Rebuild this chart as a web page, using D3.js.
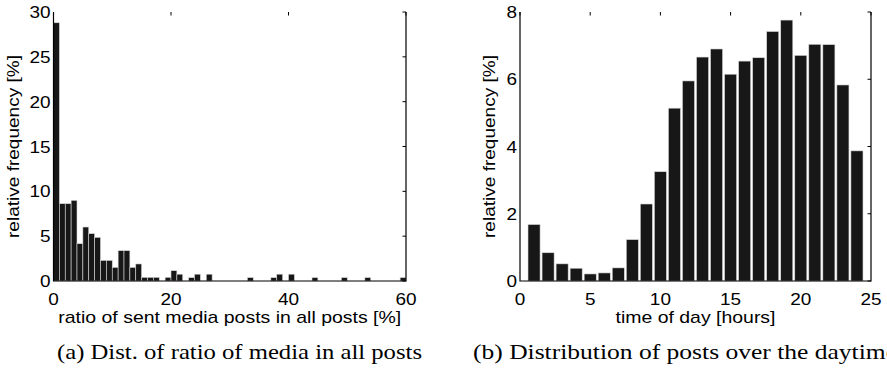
<!DOCTYPE html>
<html><head><meta charset="utf-8">
<script src="https://cdn.jsdelivr.net/npm/d3@7"></script>
<style>
body{margin:0;background:#fff;}
svg{display:block;}
</style></head>
<body>
<svg id="c" width="887" height="372"></svg>
<script>
// Left histogram: ratio of sent media posts in all posts [%], bins of width 1 from 0 to 60
const mediaBinStarts = d3.range(0, 60);
const mediaFreq = [28.8, 8.62, 8.62, 9.0, 4.16, 6.02, 5.28, 4.87, 2.3, 2.3,
  1.52, 3.38, 3.38, 1.52, 1.9, 0.41, 0.41, 0.41, 0, 0.41,
  1.15, 0.76, 0, 0.38, 0.76, 0, 0.76, 0, 0, 0,
  0, 0, 0, 0.38, 0, 0, 0, 0.38, 0.76, 0,
  0.76, 0, 0, 0, 0.38, 0, 0, 0, 0, 0.38,
  0, 0, 0, 0.38, 0, 0, 0, 0, 0, 0.38];
const mediaXTicks = [0, 20, 40, 60];
const mediaYTicks = [0, 5, 10, 15, 20, 25, 30];

// Right: posts over time of day
const hours = d3.range(1, 25);
const hourFreq = [1.68, 0.84, 0.51, 0.38, 0.21, 0.24, 0.39, 1.23, 2.29, 3.25,
  5.14, 5.95, 6.66, 6.90, 6.15, 6.54, 6.64, 7.42, 7.76, 6.71,
  7.04, 7.03, 5.83, 3.87];
const hourXTicks = [0, 5, 10, 15, 20, 25];
const hourYTicks = [0, 2, 4, 6, 8];

const svg = d3.select('#c');
const font = 'Liberation Sans, Arial, Helvetica, sans-serif';
const barFill = '#171717';
const SX = 1.15;

function panel(o) {
  const g = svg.append('g');
  const x = d3.scaleLinear().domain(o.xDomain).range([o.x0, o.x1]);
  const y = d3.scaleLinear().domain(o.yDomain).range([o.y0, o.y1]);
  g.selectAll('rect').data(o.bars).enter().append('rect')
    .attr('x', d => x(d.a))
    .attr('width', d => x(d.b) - x(d.a))
    .attr('y', d => y(d.v))
    .attr('height', d => y(0) - y(d.v))
    .attr('fill', barFill)
    .attr('stroke', '#d8d8d8')
    .attr('stroke-width', 0.6);
  g.append('path')
    .attr('d', `M${o.x0},${o.y1}V${o.y0}H${o.x1}V${o.y1}`)
    .attr('fill', 'none').attr('stroke', '#000').attr('stroke-width', 1.2);
  g.selectAll('.tt').data(o.xTicks).enter().append('line')
    .attr('x1', d => x(d)).attr('x2', d => x(d))
    .attr('y1', o.y1).attr('y2', o.y1 + 3.5)
    .attr('stroke', '#000').attr('stroke-width', 1);
  g.selectAll('.rt').data(o.yTicks).enter().append('line')
    .attr('x1', o.x1).attr('x2', o.x1 - 3.5)
    .attr('y1', d => y(d)).attr('y2', d => y(d))
    .attr('stroke', '#000').attr('stroke-width', 1);
  g.selectAll('.xl').data(o.xTicks).enter().append('text')
    .attr('transform', d => `translate(${x(d)},${o.y0 + 23.5}) scale(${SX},1)`)
    .attr('text-anchor', 'middle')
    .attr('font-family', font).attr('font-size', 16.5)
    .text(d => d);
  g.selectAll('.yl').data(o.yTicks).enter().append('text')
    .attr('transform', d => `translate(${o.x0 - 3},${y(d) + 6}) scale(${SX},1)`)
    .attr('text-anchor', 'end')
    .attr('font-family', font).attr('font-size', 16.5)
    .text(d => d);
  g.append('text')
    .attr('x', (o.x0 + o.x1) / 2).attr('y', o.y0 + 42)
    .attr('text-anchor', 'middle')
    .attr('font-family', font).attr('font-size', 17)
    .attr('textLength', o.xTitleLen).attr('lengthAdjust', 'spacingAndGlyphs')
    .text(o.xTitle);
  g.append('text')
    .attr('transform', `translate(${o.yTitleX},${(o.y0 + o.y1) / 2}) rotate(-90)`)
    .attr('text-anchor', 'middle')
    .attr('font-family', font).attr('font-size', 17)
    .attr('textLength', 183).attr('lengthAdjust', 'spacingAndGlyphs')
    .text(o.yTitle);
  g.append('text')
    .attr('x', o.capX).attr('y', 359)
    .attr('font-family', 'Liberation Serif, DejaVu Serif, serif').attr('font-size', 22)
    .attr('textLength', o.capLen).attr('lengthAdjust', 'spacingAndGlyphs')
    .text(o.caption);
}

panel({
  xDomain: [0, 60], yDomain: [0, 30],
  x0: 53.5, x1: 406, y0: 281, y1: 12,
  bars: mediaBinStarts.map((s, i) => ({a: s, b: s + 1, v: mediaFreq[i]})).filter(d => d.v > 0),
  xTicks: mediaXTicks, yTicks: mediaYTicks,
  xTitle: 'ratio of sent media posts in all posts [%]', xTitleLen: 343,
  yTitle: 'relative frequency [%]', yTitleX: 19,
  caption: '(a) Dist. of ratio of media in all posts', capX: 57, capLen: 365
});

panel({
  xDomain: [0, 25], yDomain: [0, 8],
  x0: 520, x1: 871, y0: 281, y1: 12,
  bars: hours.map((h, i) => ({a: h - 0.43, b: h + 0.43, v: hourFreq[i]})),
  xTicks: hourXTicks, yTicks: hourYTicks,
  xTitle: 'time of day [hours]', xTitleLen: 160,
  yTitle: 'relative frequency [%]', yTitleX: 495,
  caption: '(b) Distribution of posts over the daytime', capX: 473, capLen: 424
});
</script>
</body></html>
